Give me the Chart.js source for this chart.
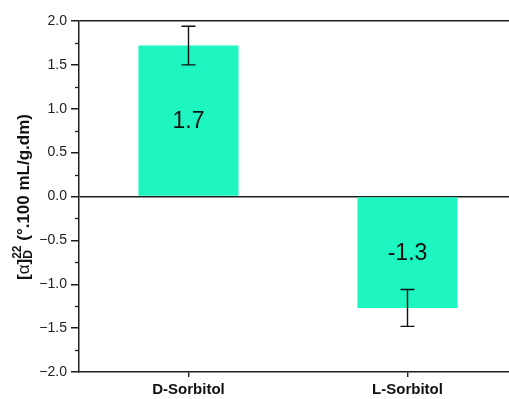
<!DOCTYPE html>
<html>
<head>
<meta charset="utf-8">
<script src="https://cdn.jsdelivr.net/npm/chart.js@4"></script>
<style>
  html, body { margin: 0; padding: 0; overflow: hidden; background: #fff; }
  #wrap { width: 530px; height: 399px; position: relative; }
</style>
</head>
<body>
<div id="wrap"><canvas id="c" width="530" height="399"></canvas></div>
<script>
// Specific optical rotation of the two sorbitol enantiomers
const categories = ['D-Sorbitol', 'L-Sorbitol'];
const rotation = [1.72, -1.27];
const rotationErr = [0.22, 0.21];
const yMin = -2.0;
const yMax = 2.0;
const yStep = 0.5;

const FONT = '"Liberation Sans", Arial, Helvetica, sans-serif';
const AXIS = '#1e1e1e';
Chart.defaults.font.family = FONT;

// minor ticks halfway between the labelled ones
const minorTicks = {
  id: 'minorTicks',
  afterDraw(chart) {
    const y = chart.scales.y, ctx = chart.ctx;
    const x0 = y.right;
    ctx.save();
    ctx.strokeStyle = AXIS;
    ctx.lineWidth = 1.3;
    for (let v = yMin + yStep / 2; v < yMax; v += yStep) {
      const py = Math.round(y.getPixelForValue(v)) + 0.5;
      ctx.beginPath();
      ctx.moveTo(x0 - 4, py);
      ctx.lineTo(x0, py);
      ctx.stroke();
    }
    ctx.restore();
  }
};

// error bars and in-bar value labels
const barExtras = {
  id: 'barExtras',
  afterDatasetsDraw(chart) {
    const xs = chart.scales.x, ys = chart.scales.y, ctx = chart.ctx;
    ctx.save();
    rotation.forEach((v, i) => {
      const px = xs.getPixelForValue(i);
      const p0 = ys.getPixelForValue(0);
      const pv = ys.getPixelForValue(v);
      // value label centred inside the bar
      ctx.fillStyle = '#111';
      ctx.font = '23px ' + FONT;
      ctx.textAlign = 'center';
      ctx.textBaseline = 'middle';
      ctx.fillText(v.toFixed(1), px, (p0 + pv) / 2 + 1);
      // error bar
      const t = ys.getPixelForValue(v + rotationErr[i]);
      const b = ys.getPixelForValue(v - rotationErr[i]);
      ctx.strokeStyle = '#111';
      ctx.lineWidth = 1.4;
      ctx.beginPath();
      ctx.moveTo(px, t); ctx.lineTo(px, b);
      ctx.moveTo(px - 7, t); ctx.lineTo(px + 7, t);
      ctx.moveTo(px - 7, b); ctx.lineTo(px + 7, b);
      ctx.stroke();
    });
    ctx.restore();
  }
};

// rotated y-axis title with sub/superscripts: [α]D22 (°.100 mL/g.dm)
const yTitle = {
  id: 'yTitle',
  afterDraw(chart) {
    const ctx = chart.ctx;
    const main = 'bold 17px ' + FONT;
    const alpha = '17px ' + FONT;
    const small = 'bold 12px ' + FONT;
    const parts = [
      { t: '[', f: main, dy: 0 },
      { t: '\u03b1', f: alpha, dy: 0 },
      { t: ']', f: main, dy: 0 },
      { t: '22', f: small, dy: -6, stack: 'D' },
      { t: ' (\u00b0.100 mL/g.dm)', f: main, dy: 0 }
    ];
    ctx.save();
    let w = 0;
    parts.forEach(p => {
      ctx.font = p.f;
      p.w = ctx.measureText(p.t).width;
      if (p.stack) p.w = Math.max(p.w, ctx.measureText(p.stack).width);
      w += p.w;
    });
    ctx.translate(24, 197);
    ctx.rotate(-Math.PI / 2);
    ctx.fillStyle = '#111';
    ctx.textBaseline = 'middle';
    ctx.textAlign = 'left';
    let x = -w / 2;
    parts.forEach(p => {
      ctx.font = p.f;
      ctx.fillText(p.t, x, p.dy);
      if (p.stack) ctx.fillText(p.stack, x, 5);
      x += p.w;
    });
    ctx.restore();
  }
};

new Chart(document.getElementById('c'), {
  type: 'bar',
  data: {
    labels: categories,
    datasets: [{
      data: rotation,
      backgroundColor: '#1ef6c1',
      borderWidth: 0,
      barPercentage: 0.457,
      categoryPercentage: 1
    }]
  },
  options: {
    responsive: false,
    animation: false,
    devicePixelRatio: 1,
    layout: { padding: { top: 21, right: 13, left: 0, bottom: 0 } },
    plugins: { legend: { display: false }, tooltip: { enabled: false } },
    scales: {
      x: {
        offset: true,
        grid: {
          display: true, drawOnChartArea: false, drawTicks: true,
          offset: false, tickLength: 5, color: AXIS, tickColor: AXIS, lineWidth: 1.4
        },
        border: { display: true, color: AXIS, width: 1.5 },
        ticks: { color: '#111', font: { size: 15, weight: 'bold' }, padding: 4 },
        afterFit(s) { s.height = 27; }
      },
      y: {
        min: yMin, max: yMax,
        ticks: {
          stepSize: yStep,
          color: '#222',
          font: { size: 14 },
          padding: 4,
          callback: v => (v < 0 ? '\u2212' : '') + Math.abs(v).toFixed(1)
        },
        grid: {
          drawTicks: true, tickLength: 8, tickColor: AXIS, lineWidth: 1.5,
          color: c => (c.tick && (c.tick.value === 0 || c.tick.value === yMax)) ? AXIS : 'rgba(0,0,0,0)'
        },
        border: { display: true, color: AXIS, width: 1.5 },
        afterFit(s) { s.width = 79; }
      }
    }
  },
  plugins: [minorTicks, barExtras, yTitle]
});
</script>
</body>
</html>
